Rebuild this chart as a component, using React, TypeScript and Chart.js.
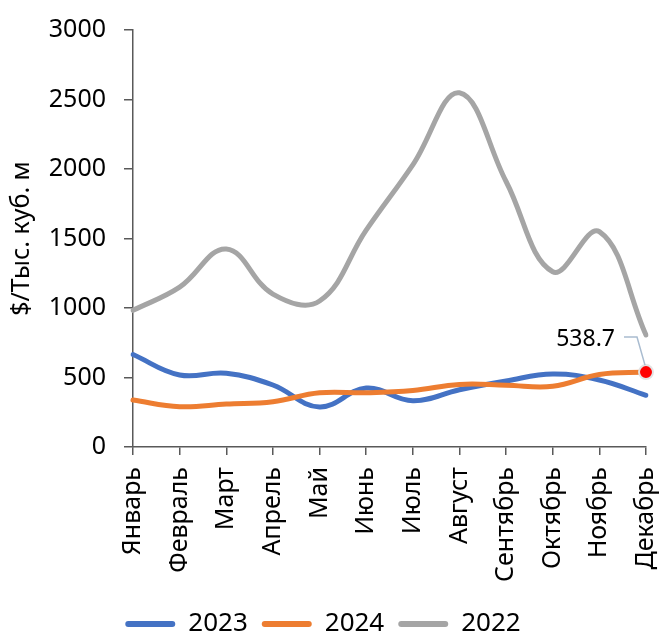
import React, { useEffect, useRef } from 'react';
import { Chart, registerables } from 'chart.js';

Chart.register(...registerables);

const months = ['Январь', 'Февраль', 'Март', 'Апрель', 'Май', 'Июнь', 'Июль', 'Август', 'Сентябрь', 'Октябрь', 'Ноябрь', 'Декабрь'];
const values2023 = [665, 518, 530, 446, 288, 424, 333, 412, 475, 525, 482, 372];
const values2024 = [338, 290, 309, 326, 390, 390, 406, 450, 445, 437, 522, 538.7];
const values2022 = [983, 1150, 1425, 1100, 1050, 1560, 2030, 2548, 1910, 1261, 1549, 806];
const yTicks = [0, 500, 1000, 1500, 2000, 2500, 3000];
const seriesLabels = ['2023', '2024', '2022'];

const FONT = '"Noto Sans", sans-serif';

const lastLabelPlugin = {
  id: 'lastLabel',
  afterDatasetsDraw(chart: any) {
    const meta = chart.getDatasetMeta(1);
    const idx = values2024.length - 1;
    const pt = meta.data[idx];
    if (!pt) return;
    const { x, y } = pt;
    const ctx = chart.ctx;
    ctx.save();
    ctx.strokeStyle = '#A9BCD0';
    ctx.lineWidth = 1.5;
    ctx.beginPath();
    ctx.moveTo(x - 22, y - 35);
    ctx.lineTo(x - 9, y - 35);
    ctx.lineTo(x - 1, y - 7);
    ctx.stroke();
    ctx.font = `23px ${FONT}`;
    ctx.fillStyle = '#000';
    ctx.textAlign = 'right';
    ctx.textBaseline = 'middle';
    ctx.fillText(String(values2024[idx]), x - 31, y - 33);
    ctx.restore();
  },
};

export default function App() {
  const ref = useRef<HTMLCanvasElement | null>(null);
  useEffect(() => {
    if (!ref.current) return;
    const lastIdx = values2024.length - 1;
    const chart = new Chart(ref.current, {
      type: 'line',
      data: {
        labels: months,
        datasets: [
          {
            label: seriesLabels[0],
            data: values2023,
            borderColor: '#4472C4',
            backgroundColor: '#4472C4',
            borderWidth: 5,
            pointRadius: 0,
            tension: 0.4,
            borderCapStyle: 'round',
            order: 3,
          },
          {
            label: seriesLabels[1],
            data: values2024,
            borderColor: '#ED7D31',
            backgroundColor: '#ED7D31',
            borderWidth: 5,
            tension: 0.4,
            borderCapStyle: 'round',
            pointRadius: (c: any) => (c.dataIndex === lastIdx ? 7 : 0),
            pointBackgroundColor: '#FF0000',
            pointBorderColor: '#E3E3E3',
            pointBorderWidth: 2,
            pointHoverRadius: 0,
            order: 2,
          },
          {
            label: seriesLabels[2],
            data: values2022,
            borderColor: '#A5A5A5',
            backgroundColor: '#A5A5A5',
            borderWidth: 5,
            pointRadius: 0,
            tension: 0.4,
            borderCapStyle: 'round',
            order: 1,
          },
        ] as any,
      },
      options: {
        animation: false,
        responsive: true,
        maintainAspectRatio: false,
        layout: { padding: { top: 30, right: 15, left: 0, bottom: 0 } },
        plugins: {
          tooltip: { enabled: false },
          legend: {
            position: 'bottom',
            labels: {
              sort: (a: any, b: any) => a.datasetIndex - b.datasetIndex,
              boxWidth: 50,
              boxHeight: 6,
              padding: 14,
              useBorderRadius: true,
              borderRadius: 3,
              color: '#000',
              font: { family: FONT, size: 26 },
              generateLabels: (c: any) =>
                (Chart.defaults.plugins.legend.labels as any).generateLabels(c).map((l: any) => ({
                  ...l,
                  lineWidth: 0,
                  fillStyle: l.strokeStyle,
                })),
            },
          },
        },
        scales: {
          x: {
            type: 'category',
            offset: false,
            grid: { display: true, drawOnChartArea: false, drawTicks: true, tickLength: 8, color: '#595959', lineWidth: 1.5 },
            border: { display: true, color: '#595959', width: 1.5 },
            ticks: {
              autoSkip: false,
              maxRotation: 90,
              minRotation: 90,
              padding: 12,
              color: '#000',
              font: { family: FONT, size: 25 },
            },
            afterFit: (s: any) => {
              s.height = 150;
              s.paddingLeft = 0;
              s.paddingRight = 0;
            },
          },
          y: {
            min: 0,
            max: 3000,
            afterBuildTicks: (s: any) => {
              s.ticks = yTicks.map((v) => ({ value: v }));
            },
            grid: { display: true, drawOnChartArea: false, drawTicks: true, tickLength: 9, color: '#595959', lineWidth: 1.5 },
            border: { display: true, color: '#595959', width: 1.5 },
            ticks: {
              padding: 18,
              color: '#000',
              font: { family: FONT, size: 25 },
              callback: (v: any) => String(v),
            },
            title: {
              display: true,
              text: '$/Тыс. куб. м',
              color: '#000',
              font: { family: FONT, size: 25 },
              padding: { top: 7, bottom: 0 },
            },
            afterFit: (s: any) => {
              s.width = 133;
              s.paddingTop = 0;
              s.paddingBottom = 0;
            },
          },
        },
      },
      plugins: [lastLabelPlugin],
    });
    return () => chart.destroy();
  }, []);
  return (
    <div style={{ position: 'fixed', left: 0, top: 0, width: 661, height: 647, background: '#fff' }}>
      <canvas ref={ref} />
    </div>
  );
}
